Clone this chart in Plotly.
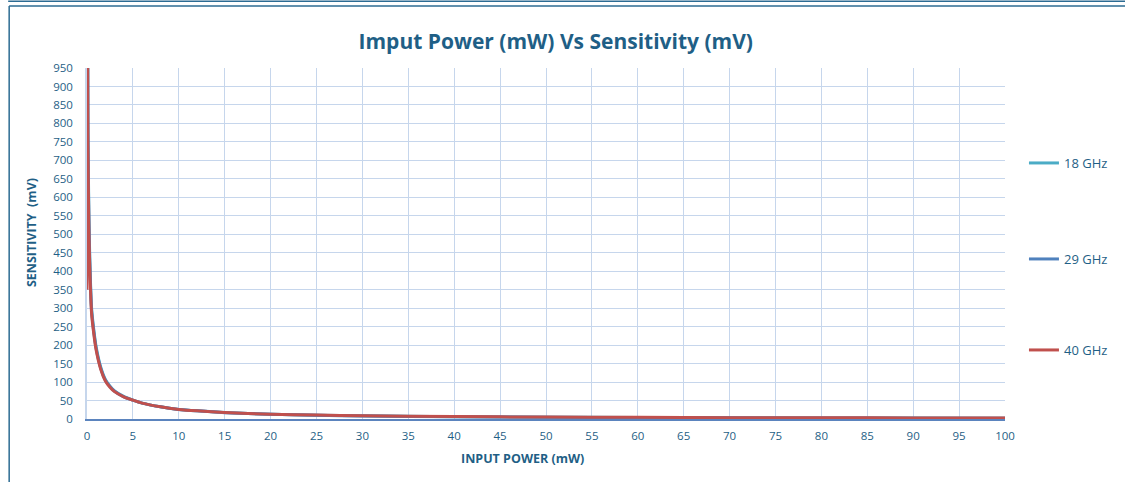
import plotly.graph_objects as go

# ---- data ----
power_18 = [0.02, 0.1, 0.2, 0.3, 0.5, 0.75, 1, 1.5, 2, 2.5, 3, 4, 5, 6, 8, 10, 12, 15, 20, 25, 30, 40, 50, 60, 70, 80, 90, 100]
sens_18 = [1600, 800, 560, 440, 300, 240, 195, 140, 107, 89, 76, 61, 51, 43, 33, 26, 22, 17.3, 12.8, 10.3, 8.5, 6.3, 5.0, 4.1, 3.5, 3.0, 2.6, 2.3]

power_29 = [0.02, 0.1, 0.2, 0.3, 0.5, 0.75, 1, 1.5, 2, 2.5, 3, 4, 5, 6, 8, 10, 12, 15, 20, 25, 30, 40, 50, 60, 70, 80, 90, 100]
sens_29 = [1550, 770, 540, 425, 292, 234, 190, 137, 105, 88, 75, 60, 51, 43, 33, 26, 22, 17.2, 12.7, 10.1, 8.3, 6.1, 4.8, 3.9, 3.2, 2.7, 2.3, 2.0]

power_40 = [0, 0.02, 0.1, 0.2, 0.3, 0.5, 0.75, 1, 1.5, 2, 2.5, 3, 4, 5, 6, 8, 10, 12, 15, 20, 25, 30, 40, 50, 60, 70, 80, 90, 100]
sens_40 = [350, 1500, 740, 520, 410, 285, 228, 186, 134, 103, 86, 74, 60, 51, 43, 33, 26, 22, 17.5, 13, 10.5, 8.7, 6.5, 5.2, 4.4, 3.7, 3.3, 2.9, 2.6]

series_names = ["18 GHz", "29 GHz", "40 GHz"]
series_colors = ["#4BACC6", "#4F81BD", "#C0504D"]

x_ticks = list(range(0, 101, 5))
y_ticks = list(range(0, 951, 50))

TXT = "#1F5F86"
GRID = "#C6D6EC"
FONT = "Open Sans"

fig = go.Figure()
data = [(power_18, sens_18), (power_29, sens_29), (power_40, sens_40)]
legends = ["legend", "legend2", "legend3"]
for (px, sy), name, col, lg in zip(data, series_names, series_colors, legends):
    fig.add_trace(go.Scatter(
        x=px, y=sy, mode="lines", name=name,
        line=dict(color=col, width=3, shape="spline", smoothing=0.6),
        legend=lg,
    ))

L, R, T, B = 87, 118, 68, 63
W, H = 1125, 482
pw, ph = W - L - R, H - T - B

def px2x(p):
    return (p - L) / pw

def py2y(p):
    return (H - B - p) / ph

leg_common = dict(
    font=dict(family=FONT, size=13, color=TXT),
    bgcolor="rgba(0,0,0,0)", itemwidth=30,
    xanchor="left", yanchor="middle",
)

fig.update_layout(
    width=W, height=H,
    margin=dict(l=L, r=R, t=T, b=B, pad=0),
    paper_bgcolor="white", plot_bgcolor="white",
    title=dict(
        text="<b>Imput Power (mW) Vs Sensitivity (mV)</b>",
        x=0.494, xanchor="center", y=1 - 42 / H, yanchor="middle",
        font=dict(family=FONT, size=21, color=TXT),
    ),
    xaxis=dict(
        range=[0, 100], tickvals=x_ticks, ticktext=[str(v) for v in x_ticks],
        showgrid=True, gridcolor=GRID, gridwidth=1.2,
        showline=True, linecolor="#5B84BE", linewidth=1.5,
        zeroline=False, ticks="", ticklabelstandoff=5,
        tickfont=dict(family=FONT, size=11.5, color=TXT),
    ),
    yaxis=dict(
        range=[0, 950], tickvals=y_ticks, ticktext=[str(v) for v in y_ticks],
        showgrid=True, gridcolor=GRID, gridwidth=1.2,
        showline=True, linecolor=GRID, linewidth=1.5,
        zeroline=False, ticks="", ticklabelstandoff=10,
        tickfont=dict(family=FONT, size=11.5, color=TXT),
    ),
    legend=dict(x=px2x(1026), y=py2y(163), **leg_common),
    legend2=dict(x=px2x(1026), y=py2y(259), **leg_common),
    legend3=dict(x=px2x(1026), y=py2y(350), **leg_common),
    showlegend=True,
)

fig.add_annotation(text="<b>INPUT POWER (mW)</b>", xref="paper", yref="paper",
                   x=px2x(523), y=py2y(459), xanchor="center", yanchor="middle",
                   showarrow=False, font=dict(family=FONT, size=12.5, color=TXT))
fig.add_annotation(text="<b>SENSITIVITY  (mV)</b>", xref="paper", yref="paper",
                   x=px2x(31), y=py2y(233), xanchor="center", yanchor="middle",
                   textangle=-90, showarrow=False,
                   font=dict(family=FONT, size=12.5, color=TXT))

frame_col = "#2C6B92"
fig.add_shape(type="line", xref="paper", yref="paper",
              x0=px2x(9), x1=px2x(9), y0=py2y(500), y1=py2y(6),
              line=dict(color=frame_col, width=1.5))
fig.add_shape(type="line", xref="paper", yref="paper",
              x0=px2x(9), x1=px2x(1140), y0=py2y(6), y1=py2y(6),
              line=dict(color=frame_col, width=1.5))
fig.add_shape(type="line", xref="paper", yref="paper",
              x0=px2x(8), x1=px2x(1140), y0=py2y(1.2), y1=py2y(1.2),
              line=dict(color=frame_col, width=1.5))

fig.write_html("out.html",
               config={"displayModeBar": False},
               post_script="document.body.style.margin='0';document.body.style.overflow='hidden';")
